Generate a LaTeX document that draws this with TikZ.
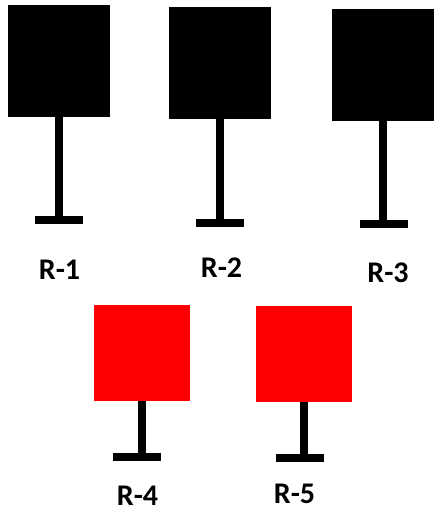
\documentclass[tikz,border=0pt]{standalone}
\usepackage{fontspec}
\setmainfont{Carlito}
\begin{document}
\begin{tikzpicture}[x=1pt,y=-1pt,
  blacksq/.style={rectangle, fill=black, inner sep=0pt, outer sep=0pt, minimum width=102pt, minimum height=112pt},
  redsq/.style={rectangle, fill=red, inner sep=0pt, outer sep=0pt, minimum width=96pt, minimum height=96pt},
  footbar/.style={rectangle, fill=black, inner sep=0pt, outer sep=0pt, minimum width=48pt, minimum height=8pt},
  stem/.style={draw=black, line width=7.5pt},
  lbl/.style={font=\fontsize{30}{30}\selectfont\bfseries, inner sep=0pt}]
\useasboundingbox (0,0) rectangle (434,510);
% squares
\node[blacksq] (s1) at (59,61) {};
\node[blacksq] (s2) at (220,63) {};
\node[blacksq] (s3) at (383,65) {};
\node[redsq] (s4) at (142,353) {};
\node[redsq] (s5) at (304,354) {};
% foot bars
\node[footbar] (b1) at (59,220.5) {};
\node[footbar] (b2) at (220,223) {};
\node[footbar] (b3) at (384,224) {};
\node[footbar] (b4) at (137,456.5) {};
\node[footbar] (b5) at (300,457.5) {};
% stems
\draw[stem] (s1.south) -- (s1.south |- b1.north);
\draw[stem] (s2.south) -- (s2.south |- b2.north);
\draw[stem] (s3.south) -- (s3.south |- b3.north);
\draw[stem] (s4.south) -- (s4.south |- b4.north);
\draw[stem] (s5.south) -- (s5.south |- b5.north);
% labels
\node[lbl] (l1) at (59.5,270) {R-1};
\node[lbl] (l2) at (221.5,267.5) {R-2};
\node[lbl] (l3) at (388,272.5) {R-3};
\node[lbl] (l4) at (137.5,495.5) {R-4};
\node[lbl] (l5) at (294.5,494) {R-5};
\end{tikzpicture}
\end{document}
